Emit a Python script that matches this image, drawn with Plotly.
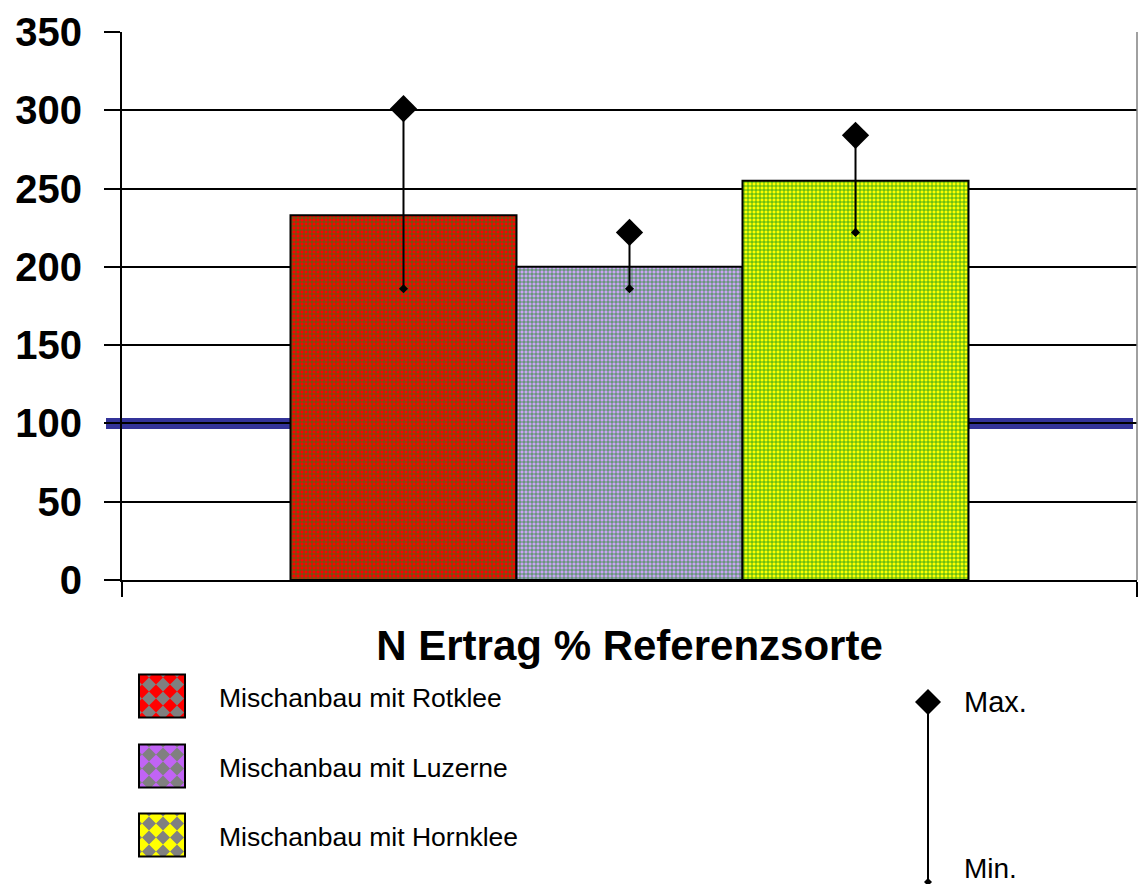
import plotly.graph_objects as go

# ---- data -------------------------------------------------------------
category = ["N Ertrag % Referenzsorte"]
series = ["Mischanbau mit Rotklee", "Mischanbau mit Luzerne", "Mischanbau mit Hornklee"]
n_yield = [233, 200, 255]          # N-Ertrag in % der Referenzsorte
n_max = [301, 222, 284]            # Maximum
n_min = [186, 186, 222]            # Minimum
reference_level = 100              # Referenzsorte = 100 %
y_ticks = [0, 50, 100, 150, 200, 250, 300, 350]

# ---- styling ----------------------------------------------------------
FONT = "Liberation Sans, Arial, sans-serif"
bar_bg = ["#FF0000", "#CAA4F4", "#FFFF00"]
bar_fg = ["#1A8A1A", "#1A8A1A", "#1A9A1A"]
bar_solidity = [0.32, 0.3, 0.36]
legend_bg = ["#808080", "#808080", "#808080"]
legend_fg = ["#FF0000", "#C164F5", "#FFFF00"]
groups = ["g0", "g1", "g2"]

W, H = 1141, 884
PL, PR, PT, PB = 122, 1137, 32, 580   # plot area in pixels


def px_x(px):
    return (px - PL) / (PR - PL)


def px_y(py):
    return (PB - py) / (PB - PT)


fig = go.Figure()

for i, name in enumerate(series):
    fig.add_trace(go.Bar(
        x=category, y=[n_yield[i]], name=name, offsetgroup=groups[i],
        marker=dict(
            color=bar_bg[i],
            line=dict(color="black", width=2),
            pattern=dict(shape="+", fgcolor=bar_fg[i], bgcolor=bar_bg[i],
                         size=4, solidity=bar_solidity[i], fillmode="replace"),
        ),
    ))

# min-max markers on each bar
for i, name in enumerate(series):
    fig.add_trace(go.Scatter(
        x=category * 2, y=[n_min[i], n_max[i]], offsetgroup=groups[i],
        mode="lines+markers", showlegend=False, hoverinfo="skip", opacity=1,
        line=dict(color="black", width=2),
        marker=dict(symbol="diamond", color="black", size=[7, 21], opacity=1,
                    line=dict(color="black", width=0)),
    ))

shapes = []
# reference line at 100 %
shapes.append(dict(type="line", xref="paper", yref="y", layer="below",
                   x0=px_x(106), x1=px_x(1133), y0=reference_level, y1=reference_level,
                   line=dict(color="#333399", width=11)))
# right border of the plot area
shapes.append(dict(type="line", xref="paper", yref="paper", x0=1, x1=1, y0=0, y1=1,
                   line=dict(color="#808080", width=1.5)))


def clip(poly, x0, y0, x1, y1):
    def edge(pts, inside, inter):
        out = []
        for k in range(len(pts)):
            a, b = pts[k - 1], pts[k]
            ia, ib = inside(a), inside(b)
            if ib:
                if not ia:
                    out.append(inter(a, b))
                out.append(b)
            elif ia:
                out.append(inter(a, b))
        return out

    def ix(xc):
        return lambda a, b: (xc, a[1] + (b[1] - a[1]) * (xc - a[0]) / (b[0] - a[0]))

    def iy(yc):
        return lambda a, b: (a[0] + (b[0] - a[0]) * (yc - a[1]) / (b[1] - a[1]), yc)

    pts = poly
    pts = edge(pts, lambda p: p[0] >= x0, ix(x0)) if pts else pts
    pts = edge(pts, lambda p: p[0] <= x1, ix(x1)) if pts else pts
    pts = edge(pts, lambda p: p[1] >= y0, iy(y0)) if pts else pts
    pts = edge(pts, lambda p: p[1] <= y1, iy(y1)) if pts else pts
    return pts


def to_path(pts):
    s = "M " + " L ".join(f"{px_x(x):.5f},{px_y(y):.5f}" for x, y in pts)
    return s + " Z"


# legend swatches with diamond checker fill
icon_x0, icon_x1 = 139, 185
row_cy = [696, 766, 835]
text_cy = [698, 768, 837]
icon_h = 43
hd = 7  # half diagonal of a diamond
annotations = []
for i, name in enumerate(series):
    y0 = row_cy[i] - icon_h / 2
    y1 = row_cy[i] + icon_h / 2
    shapes.append(dict(type="rect", xref="paper", yref="paper",
                       x0=px_x(icon_x0), x1=px_x(icon_x1), y0=px_y(y1), y1=px_y(y0),
                       fillcolor=legend_bg[i], line=dict(width=0)))
    for gy in range(-1, 5):
        for gx in range(-1, 5):
            cx = icon_x0 + 3 + gx * 2 * hd
            cy = y0 + 3 + gy * 2 * hd
            dia = [(cx, cy - hd), (cx + hd, cy), (cx, cy + hd), (cx - hd, cy)]
            pts = clip(dia, icon_x0, y0, icon_x1, y1)
            if len(pts) >= 3:
                shapes.append(dict(type="path", xref="paper", yref="paper",
                                   path=to_path(pts), fillcolor=legend_fg[i],
                                   line=dict(width=0)))
    shapes.append(dict(type="rect", xref="paper", yref="paper",
                       x0=px_x(icon_x0), x1=px_x(icon_x1), y0=px_y(y1), y1=px_y(y0),
                       fillcolor="rgba(0,0,0,0)", line=dict(color="black", width=2)))
    annotations.append(dict(xref="paper", yref="paper", x=px_x(217), y=px_y(text_cy[i]),
                            text=name, showarrow=False, xanchor="left", yanchor="middle",
                            font=dict(family=FONT, size=26.5, color="black")))

# Max./Min. key
kx, ky_max, ky_min = 928, 702, 882


def diamond_path(cx, cy, r):
    return to_path([(cx, cy - r), (cx + r, cy), (cx, cy + r), (cx - r, cy)])


shapes.append(dict(type="line", xref="paper", yref="paper",
                   x0=px_x(kx), x1=px_x(kx), y0=px_y(ky_max), y1=px_y(ky_min),
                   line=dict(color="black", width=2)))
shapes.append(dict(type="path", xref="paper", yref="paper", path=diamond_path(kx, ky_max, 13),
                   fillcolor="black", line=dict(width=0)))
shapes.append(dict(type="path", xref="paper", yref="paper", path=diamond_path(kx, ky_min, 4),
                   fillcolor="black", line=dict(width=0)))
annotations.append(dict(xref="paper", yref="paper", x=px_x(962), y=px_y(ky_max),
                        text="Max.", showarrow=False, xanchor="left", yanchor="middle",
                        font=dict(family=FONT, size=29, color="black")))
annotations.append(dict(xref="paper", yref="paper", x=px_x(962), y=px_y(868),
                        text="Min.", showarrow=False, xanchor="left", yanchor="middle",
                        font=dict(family=FONT, size=28, color="black")))

fig.update_layout(
    width=W, height=H,
    margin=dict(l=PL, r=W - PR, t=PT, b=H - PB, pad=0),
    plot_bgcolor="white", paper_bgcolor="white",
    showlegend=False,
    barmode="group", bargap=0.332, bargroupgap=0,
    scattermode="group",
    shapes=shapes, annotations=annotations,
    font=dict(family=FONT, color="black"),
    xaxis=dict(type="category", range=[-0.5, 0.5], tickson="boundaries",
               ticks="outside", ticklen=15, tickwidth=2, tickcolor="black",
               showline=True, linecolor="black", linewidth=2,
               showgrid=False, ticklabelstandoff=28,
               tickfont=dict(family=FONT, size=42, color="black", weight="bold")),
    yaxis=dict(range=[0, 350], tickvals=y_ticks, ticks="outside", ticklen=16,
               tickwidth=2, tickcolor="black", showline=True, linecolor="black",
               linewidth=2, showgrid=True, gridcolor="black", gridwidth=1.5,
               zeroline=False, ticklabelstandoff=14,
               tickfont=dict(family=FONT, size=40, color="black", weight="bold")),
)

fig.write_html("out.html")
